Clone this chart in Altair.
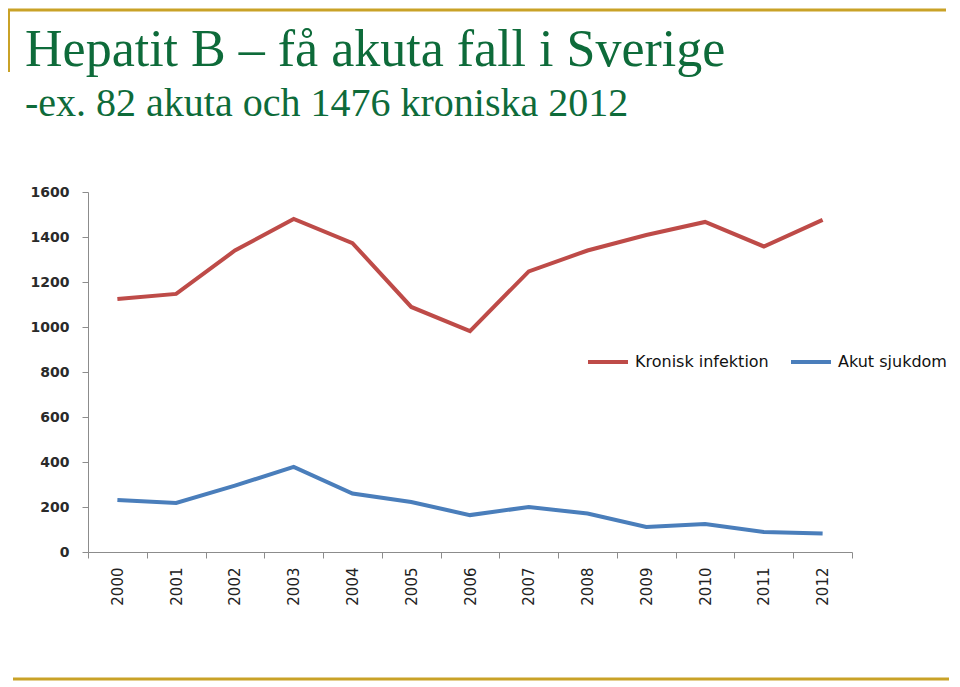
import altair as alt
import pandas as pd

years = [str(y) for y in range(2000, 2013)]
kronisk = [1124, 1147, 1340, 1480, 1373, 1089, 982, 1247, 1340, 1409, 1467, 1358, 1476]
akut = [231, 218, 295, 378, 260, 222, 164, 200, 171, 111, 124, 89, 82]
series_names = ["Kronisk infektion", "Akut sjukdom"]
series_colors = ["#BE4B48", "#4A7EBB"]
y_ticks = [0, 200, 400, 600, 800, 1000, 1200, 1400, 1600]

title_text = "Hepatit B – få akuta fall i Sverige"
subtitle_text = "-ex. 82 akuta och 1476 kroniska 2012"

rows = []
for y, k, a in zip(years, kronisk, akut):
    rows.append({"year": y, "series": series_names[0], "value": k})
    rows.append({"year": y, "series": series_names[1], "value": a})
df = pd.DataFrame(rows)

W, H = 764, 360
GREEN = "#0E6B3A"
GOLD = "#C9A227"
AXIS_GRAY = "#8C8C8C"

lines = alt.Chart(df).mark_line(strokeWidth=4).encode(
    x=alt.X("year:O", sort=years,
            scale=alt.Scale(type="band", paddingInner=0, paddingOuter=0),
            axis=alt.Axis(title=None, labelAngle=270, labelAlign="right", labelBaseline="middle",
                          labelPadding=9, tickBand="extent", tickSize=6,
                          domainColor=AXIS_GRAY, tickColor=AXIS_GRAY,
                          labelFont="DejaVu Sans", labelFontSize=15, labelColor="#222222")),
    y=alt.Y("value:Q", scale=alt.Scale(domain=[0, 1600], nice=False),
            axis=alt.Axis(title=None, values=y_ticks, format="d", grid=False, tickSize=6,
                          domainColor=AXIS_GRAY, tickColor=AXIS_GRAY, labelPadding=13,
                          labelFont="DejaVu Sans", labelFontSize=14, labelFontWeight="bold",
                          labelColor="#2A2A2A")),
    color=alt.Color("series:N", sort=series_names,
                    scale=alt.Scale(domain=series_names, range=series_colors),
                    legend=alt.Legend(title=None, orient="none", legendX=498, legendY=148,
                                      direction="horizontal", symbolType="stroke",
                                      symbolSize=1600, symbolStrokeWidth=4,
                                      labelFont="DejaVu Sans", labelFontSize=16,
                                      labelColor="#111111",
                                      labelOffset=5, columnPadding=14)),
)

title = alt.Chart(pd.DataFrame({"t": [title_text]})).mark_text(
    align="left", baseline="alphabetic", font="Liberation Serif", fontSize=52, color=GREEN
).encode(text="t:N", x=alt.value(-63), y=alt.value(-126))

subtitle = alt.Chart(pd.DataFrame({"t": [subtitle_text]})).mark_text(
    align="left", baseline="alphabetic", font="Liberation Serif", fontSize=40, color=GREEN
).encode(text="t:N", x=alt.value(-63), y=alt.value(-76))

top_rule = alt.Chart(pd.DataFrame({"a": [0]})).mark_rule(color=GOLD, strokeWidth=3).encode(
    x=alt.value(-80), x2=alt.value(858), y=alt.value(-182))
left_rule = alt.Chart(pd.DataFrame({"a": [0]})).mark_rule(color=GOLD, strokeWidth=2).encode(
    x=alt.value(-79), y=alt.value(-183), y2=alt.value(-120))
bottom_rule = alt.Chart(pd.DataFrame({"a": [0]})).mark_rule(color=GOLD, strokeWidth=3).encode(
    x=alt.value(-75), x2=alt.value(861), y=alt.value(487))

chart = alt.layer(lines, title, subtitle, top_rule, left_rule, bottom_rule).properties(
    width=W, height=H,
    background="white",
    autosize=alt.AutoSizeParams(type="none"),
    padding={"left": 80, "top": 184, "right": 98, "bottom": 130},
).configure_view(strokeWidth=0, stroke="transparent")

chart.save("out.html", embed_options={"renderer": "svg", "actions": False})
